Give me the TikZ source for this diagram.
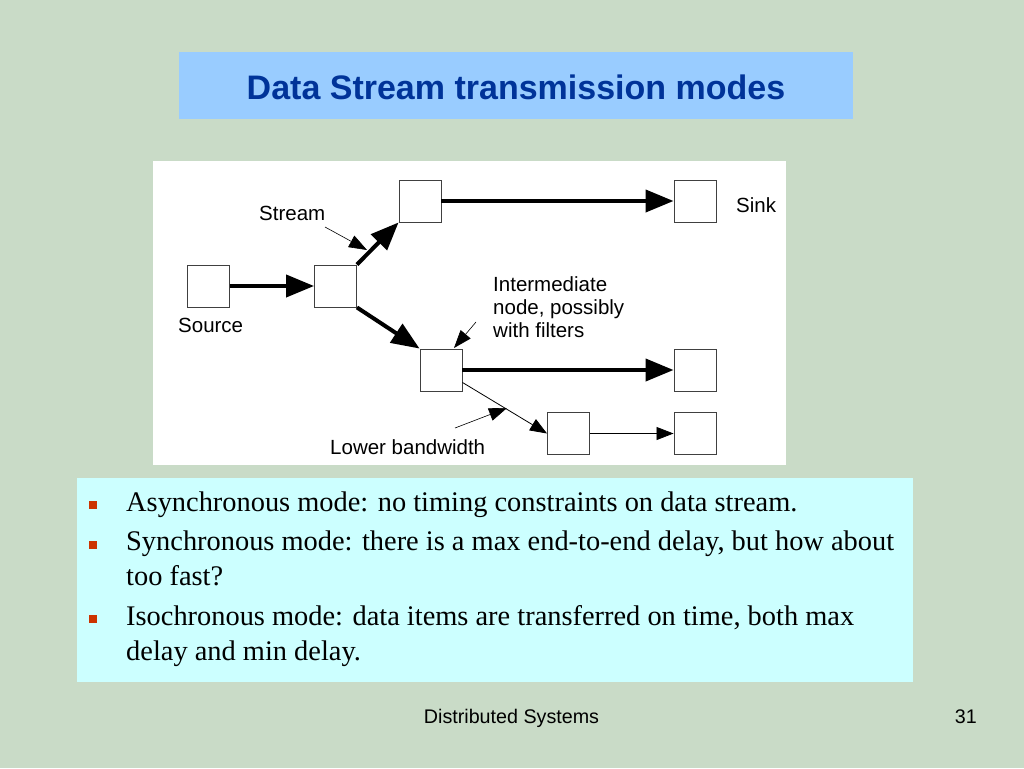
\documentclass[tikz,border=0pt]{standalone}
\usepackage{fontspec}
\setmainfont{Liberation Serif}
\setsansfont{Liberation Sans}
\usetikzlibrary{arrows.meta,calc}
\definecolor{slidebg}{RGB}{201,219,199}
\definecolor{titlebg}{RGB}{153,204,255}
\definecolor{titleblue}{RGB}{0,51,153}
\definecolor{itembg}{RGB}{204,255,255}
\definecolor{itemred}{RGB}{204,51,0}
\tikzset{
  station/.style={draw=black!75, fill=white, line width=0.9pt, minimum size=42pt, inner sep=0pt},
  fatflow/.style={line width=4pt, -{Triangle[length=28pt,width=22pt]}},
  thinflow/.style={line width=0.8pt, -{Triangle[length=17pt,width=13pt]}},
  pointer/.style={line width=0.6pt, -{Triangle[length=18pt,width=13pt]}},
  diagtext/.style={inner sep=0pt, anchor=base west, align=left, font=\sffamily\fontsize{20.5}{23}\selectfont},
  itemtext/.style={inner sep=0pt, anchor=base west, align=left, font=\rmfamily\fontsize{28.4}{34.5}\selectfont},
  itemmark/.style={fill=itemred, minimum size=8pt, inner sep=0pt}
}
\begin{document}
\begin{tikzpicture}[x=1pt,y=-1pt]
\useasboundingbox (0,0) rectangle (1024,768);
\fill[slidebg] (0,0) rectangle (1024,768);
\fill[titlebg] (179,52) rectangle (853,119);
\node[anchor=base, inner sep=0pt, text=titleblue, font=\sffamily\bfseries\fontsize{34}{40}\selectfont] (title) at (516,99) {Data Stream transmission modes};
\fill[white] (153,161) rectangle (786,465);
\node[station] (source) at (208.5,286) {};
\node[station] (hub) at (335.5,286) {};
\node[station] (upper) at (420,201) {};
\node[station] (sinkA) at (695,201) {};
\node[station] (filter) at (441,370) {};
\node[station] (sinkB) at (695,370) {};
\node[station] (lowbw) at (568.5,433.5) {};
\node[station] (sinkC) at (695,433.5) {};
\draw[fatflow] (source) -- (hub);
\draw[fatflow] (hub.north east) -- (upper.south west);
\draw[fatflow] (hub.south east) -- (filter.north west);
\draw[fatflow] (upper) -- (sinkA);
\draw[fatflow] (filter) -- (sinkB);
\draw[thinflow] ($(filter.south east)+(0,-9)$) -- (lowbw.west);
\draw[thinflow] (lowbw) -- (sinkC);
\node[diagtext] (sourcelbl) at (178,332) {Source};
\node[diagtext] (streamlbl) at (259,220) {Stream};
\node[diagtext] (sinklbl) at (736,212) {Sink};
\node[diagtext] (filterlbl) at (493,337) {Intermediate\\node, possibly\\with filters};
\node[diagtext] (bwlbl) at (330,454) {Lower bandwidth};
\coordinate (streamtail) at (325,227);
\coordinate (streamtip) at (367,250);
\coordinate (filtertail) at (476,322);
\coordinate (filtertip) at (454,348);
\coordinate (bwtail) at (455,428);
\coordinate (bwtip) at (507,408);
\draw[pointer] (streamtail) -- (streamtip);
\draw[pointer] (filtertail) -- (filtertip);
\draw[pointer] (bwtail) -- (bwtip);
\fill[itembg] (77,478) rectangle (913,682);
\node[itemmark] (mark1) at (93,505) {};
\node[itemmark] (mark2) at (93,545) {};
\node[itemmark] (mark3) at (93,619) {};
\node[itemtext] (item1) at (126,511) {Asynchronous mode: no timing constraints on data stream.};
\node[itemtext] (item2) at (126,585) {Synchronous mode: there is a max end-to-end delay, but how about\\too fast?};
\node[itemtext] (item3) at (126,660) {Isochronous mode: data items are transferred on time, both max\\delay and min delay.};
\node[anchor=base, inner sep=0pt, font=\sffamily\fontsize{19.7}{23}\selectfont] (footer) at (511.5,723) {Distributed Systems};
\node[anchor=base east, inner sep=0pt, font=\sffamily\fontsize{19.7}{23}\selectfont] (pageno) at (977,723) {31};
\end{tikzpicture}
\end{document}
